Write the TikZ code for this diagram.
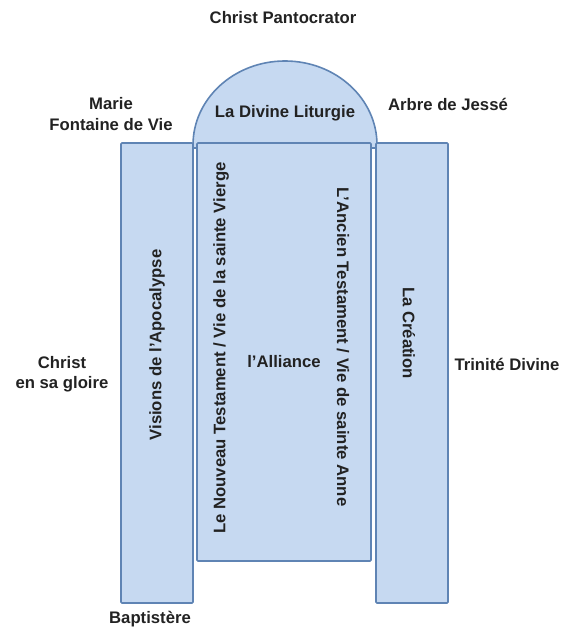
\documentclass[tikz,border=0pt]{standalone}
\usepackage{fontspec}
\setmainfont{Liberation Sans}
\definecolor{panelfill}{HTML}{C6D9F1}
\definecolor{paneldraw}{HTML}{5F84B4}
\definecolor{labeltext}{HTML}{222222}
\begin{document}
\begin{tikzpicture}[x=1bp,y=1bp,
  panel/.style={draw=paneldraw, fill=panelfill, line width=1.6bp, rounded corners=1bp, inner sep=0pt},
  lbl/.style={text=labeltext, font=\fontsize{16.7bp}{20.5bp}\selectfont\bfseries, align=center, inner sep=0pt}]
\useasboundingbox (0,0) rectangle (562,630);
% dome
\filldraw[draw=paneldraw, fill=panelfill, line width=1.6bp] (193,482) -- (193,485) arc[start angle=180, end angle=0, x radius=92, y radius=84] -- (377,482) -- cycle;
% panels
\node[panel, minimum width=72bp, minimum height=460bp] (leftp) at (157,257) {};
\node[panel, minimum width=174bp, minimum height=418bp] (centerp) at (284,278) {};
\node[panel, minimum width=72bp, minimum height=460bp] (rightp) at (412,257) {};
% labels inside
\node[lbl] (liturgie) at (285,517) {La Divine Liturgie};
\node[lbl, rotate=90] (visions) at (157,285) {Visions de l’Apocalypse};
\node[lbl, rotate=90] (nouveau) at (221,282) {Le Nouveau Testament / Vie de la sainte Vierge};
\node[lbl] (alliance) at (284,268) {l’Alliance};
\node[lbl, rotate=-90] (ancien) at (343,283) {L’Ancien Testament / Vie de sainte Anne};
\node[lbl, rotate=-90] (creation) at (409,297) {La Création};
% labels outside
\node[lbl] (pantocrator) at (283,612) {Christ Pantocrator};
\node[lbl] (marie) at (111,516) {Marie\\Fontaine de Vie};
\node[lbl] (jesse) at (448,526) {Arbre de Jessé};
\node[lbl] (gloire) at (62,256) {Christ\\en sa gloire};
\node[lbl] (trinite) at (507,266) {Trinité Divine};
\node[lbl] (baptistere) at (150,11) {Baptistère};
\end{tikzpicture}
\end{document}
